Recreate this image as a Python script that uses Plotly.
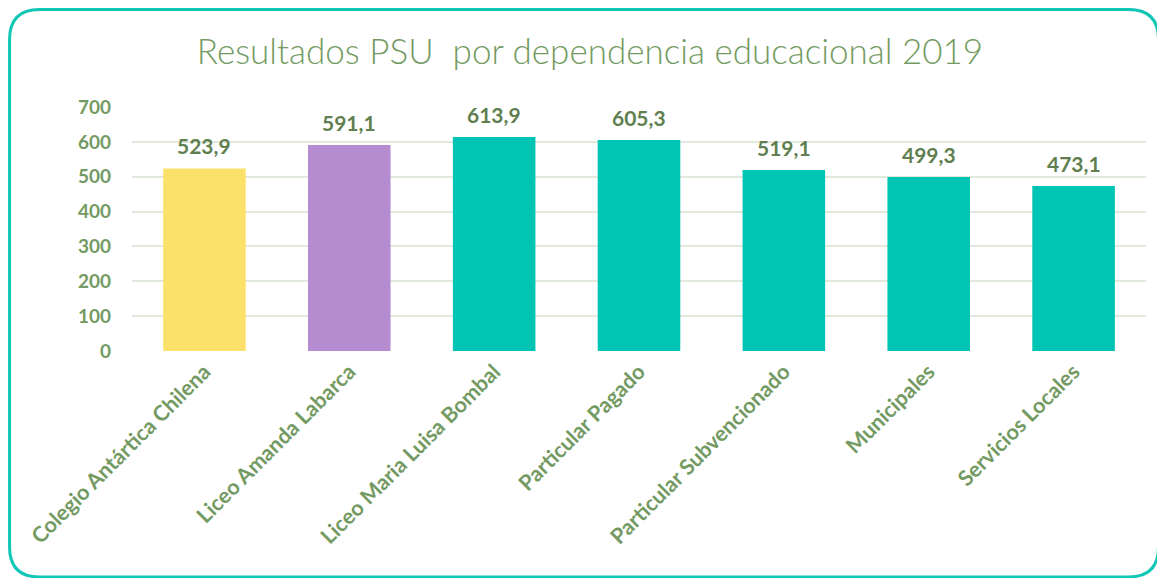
import plotly.graph_objects as go

categories = ["Colegio Antártica Chilena", "Liceo Amanda Labarca", "Liceo Maria Luisa Bombal",
              "Particular Pagado", "Particular Subvencionado", "Municipales", "Servicios Locales"]
values = [523.9, 591.1, 613.9, 605.3, 519.1, 499.3, 473.1]
bar_colors = ["#fbe16a", "#b48ccf", "#00c4b4", "#00c4b4", "#00c4b4", "#00c4b4", "#00c4b4"]
y_ticks = [0, 100, 200, 300, 400, 500, 600, 700]

OFF = 8  # page body margin
W, H = 1165 - OFF, 578 - OFF
L, R, T, B = 132 - OFF, 18.5, 107 - OFF, 227
FONT = "Lato, 'Open Sans', sans-serif"
GREEN = "#739a62"
LABEL_GREEN = "#5f7f50"

fig = go.Figure(go.Bar(x=categories, y=values, marker=dict(color=bar_colors, line=dict(width=0)),
                       width=0.57, hoverinfo="skip"))

for c, v in zip(categories, values):
    fig.add_annotation(x=c, y=v, text=f"{v:.1f}".replace(".", ","), showarrow=False,
                       yanchor="bottom", yshift=8,
                       font=dict(family=FONT, size=21, color=LABEL_GREEN, weight="bold"))

# rounded border (screen pixel coords -> paper coords)
pw, ph = W - L - R, H - T - B
def px(x):
    return (x - OFF - L) / pw
def py(y):
    return 1 - (y - OFF - T) / ph
x0, x1, y0, y1, r = 9.5, 1159, 9.5, 577, 30
path = (f"M {px(x0 + r)},{py(y0)} L {px(x1 - r)},{py(y0)} "
        f"Q {px(x1)},{py(y0)} {px(x1)},{py(y0 + r)} "
        f"L {px(x1)},{py(y1 - r)} Q {px(x1)},{py(y1)} {px(x1 - r)},{py(y1)} "
        f"L {px(x0 + r)},{py(y1)} Q {px(x0)},{py(y1)} {px(x0)},{py(y1 - r)} "
        f"L {px(x0)},{py(y0 + r)} Q {px(x0)},{py(y0)} {px(x0 + r)},{py(y0)} Z")
fig.add_shape(type="path", path=path, xref="paper", yref="paper",
              line=dict(color="#12c6b5", width=3), layer="below")

fig.update_layout(
    width=W, height=H,
    margin=dict(l=L, r=R, t=T, b=B, autoexpand=False),
    paper_bgcolor="white", plot_bgcolor="white",
    showlegend=False,
    title=dict(text="Resultados PSU  por dependencia educacional 2019", x=0.503, xanchor="center",
               y=1 - (52 - OFF) / H, yanchor="middle",
               font=dict(family=FONT, size=35, color=GREEN, weight=300)),
    xaxis=dict(tickangle=-45, showgrid=False, showline=False, ticks="", automargin=False,
               ticklabelstandoff=3,
               tickfont=dict(family=FONT, size=21.5, color=GREEN, weight="bold")),
    yaxis=dict(range=[0, 700], tickvals=y_ticks, showgrid=True, gridcolor="#e1e8dc", gridwidth=1.5,
               zeroline=False, showline=False, ticks="", ticklabelstandoff=20, automargin=False,
               tickfont=dict(family=FONT, size=19, color=GREEN, weight="bold")),
)

fig.write_html("out.html")
